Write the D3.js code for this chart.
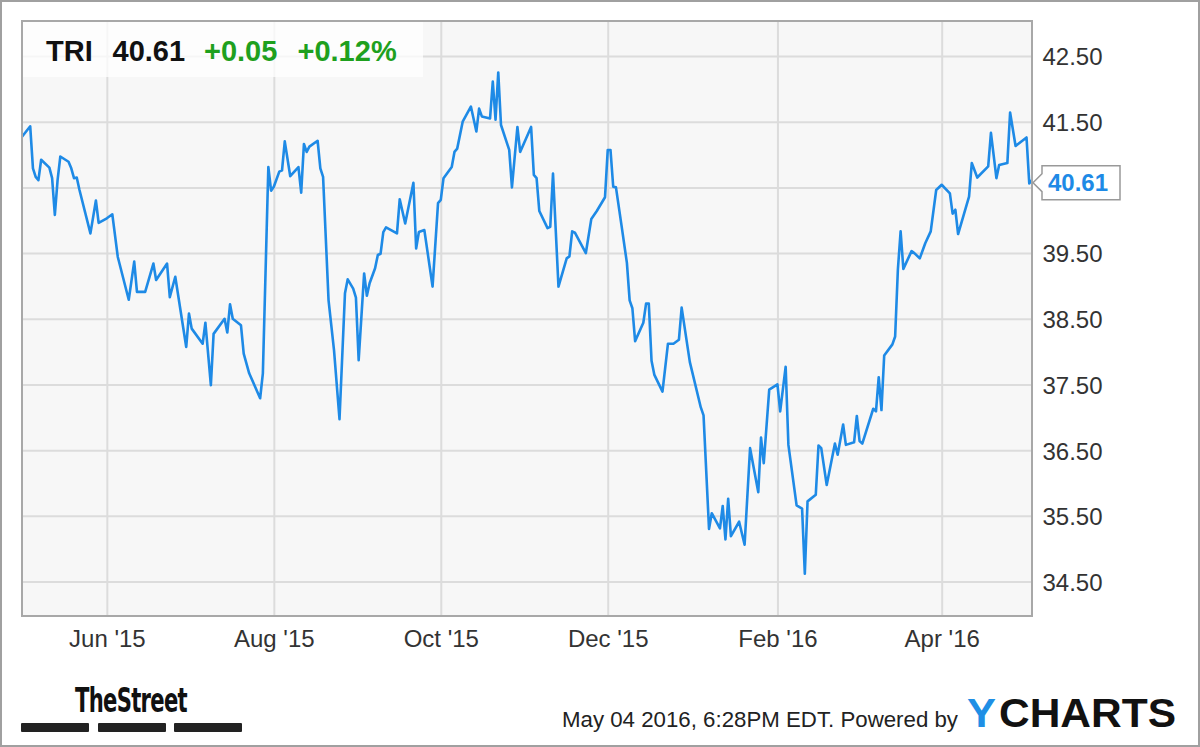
<!DOCTYPE html>
<html>
<head>
<meta charset="utf-8">
<script src="https://cdn.jsdelivr.net/npm/d3@7"></script>
<style>
  html, body { margin: 0; padding: 0; background: #fff; }
  svg { display: block; font-family: "Liberation Sans", Arial, Helvetica, sans-serif; }
</style>
</head>
<body>
<svg id="chart" width="1200" height="747"></svg>
<script>
// ---------- DATA ----------
const ticker = "TRI";
const lastPrice = "40.61";
const change = "+0.05";
const changePct = "+0.12%";
const footerText = "May 04 2016, 6:28PM EDT. Powered by";

const dates = [
  "2015-05-01","2015-05-04","2015-05-05","2015-05-06","2015-05-07","2015-05-08","2015-05-11","2015-05-12","2015-05-13","2015-05-14",
  "2015-05-15","2015-05-18","2015-05-19","2015-05-20","2015-05-21","2015-05-22","2015-05-26","2015-05-28","2015-05-29","2015-06-01",
  "2015-06-03","2015-06-05","2015-06-09","2015-06-11","2015-06-12","2015-06-15","2015-06-18","2015-06-19","2015-06-23","2015-06-24",
  "2015-06-26","2015-06-30","2015-07-01","2015-07-02","2015-07-06","2015-07-07","2015-07-09","2015-07-10","2015-07-14","2015-07-15",
  "2015-07-16","2015-07-17","2015-07-20","2015-07-21","2015-07-23","2015-07-27","2015-07-28","2015-07-30","2015-07-31","2015-08-01",
  "2015-08-03","2015-08-04","2015-08-05","2015-08-07","2015-08-10","2015-08-11","2015-08-12","2015-08-13","2015-08-14","2015-08-17",
  "2015-08-18","2015-08-19","2015-08-21","2015-08-23","2015-08-25","2015-08-27","2015-08-28","2015-08-30","2015-08-31","2015-09-01",
  "2015-09-03","2015-09-04","2015-09-05","2015-09-07","2015-09-08","2015-09-09","2015-09-10","2015-09-11","2015-09-15","2015-09-16",
  "2015-09-18","2015-09-21","2015-09-22","2015-09-23","2015-09-25","2015-09-28","2015-09-30","2015-10-01","2015-10-02","2015-10-05",
  "2015-10-06","2015-10-07","2015-10-09","2015-10-12","2015-10-14","2015-10-15","2015-10-16","2015-10-19","2015-10-20","2015-10-21",
  "2015-10-22","2015-10-23","2015-10-26","2015-10-27","2015-10-29","2015-10-30","2015-11-03","2015-11-04","2015-11-05","2015-11-06",
  "2015-11-09","2015-11-10","2015-11-11","2015-11-13","2015-11-16","2015-11-17","2015-11-18","2015-11-19","2015-11-23","2015-11-25",
  "2015-11-27","2015-11-30","2015-12-01","2015-12-02","2015-12-03","2015-12-04","2015-12-06","2015-12-08","2015-12-09","2015-12-10",
  "2015-12-11","2015-12-14","2015-12-15","2015-12-16","2015-12-17","2015-12-18","2015-12-21","2015-12-23","2015-12-25","2015-12-27",
  "2015-12-28","2015-12-31","2016-01-04","2016-01-05","2016-01-07","2016-01-08","2016-01-11","2016-01-12","2016-01-13","2016-01-14",
  "2016-01-15","2016-01-18","2016-01-20","2016-01-22","2016-01-25","2016-01-26","2016-01-27","2016-01-29","2016-02-01","2016-02-02",
  "2016-02-04","2016-02-05","2016-02-08","2016-02-10","2016-02-11","2016-02-12","2016-02-15","2016-02-16","2016-02-17","2016-02-19",
  "2016-02-22","2016-02-23","2016-02-25","2016-02-26","2016-02-29","2016-03-01","2016-03-02","2016-03-03","2016-03-07","2016-03-08",
  "2016-03-09","2016-03-10","2016-03-11","2016-03-14","2016-03-15","2016-03-16","2016-03-17","2016-03-18","2016-03-21","2016-03-22",
  "2016-03-24","2016-03-26","2016-03-28","2016-03-30","2016-04-01","2016-04-04","2016-04-05","2016-04-06","2016-04-07","2016-04-11",
  "2016-04-12","2016-04-14","2016-04-18","2016-04-19","2016-04-21","2016-04-22","2016-04-25","2016-04-26","2016-04-28","2016-05-02",
  "2016-05-03","2016-05-04"
];

const prices = [
  41.27,41.43,40.79,40.66,40.61,40.92,40.80,40.64,40.08,40.61,
  40.97,40.89,40.79,40.64,40.65,40.46,39.80,40.30,39.96,40.03,
  40.09,39.44,38.79,39.37,38.91,38.91,39.34,39.09,39.34,38.83,
  39.14,38.07,38.58,38.35,38.12,38.44,37.49,38.27,38.50,38.29,
  38.72,38.50,38.40,37.97,37.67,37.29,37.67,40.81,40.45,40.51,
  40.74,40.76,41.20,40.67,40.81,40.42,41.16,41.04,41.12,41.21,
  40.79,40.66,38.78,38.02,36.97,38.89,39.10,38.96,38.82,37.87,
  39.19,38.85,39.04,39.27,39.47,39.49,39.82,39.89,39.80,40.32,
  39.95,40.57,39.57,39.82,39.85,38.99,40.26,40.31,40.64,40.81,
  41.04,41.09,41.50,41.73,41.35,41.70,41.58,41.55,42.11,41.53,
  42.25,41.45,41.07,40.50,41.42,41.04,41.42,40.69,40.64,40.14,
  39.88,39.90,40.71,38.99,39.42,39.45,39.83,39.81,39.50,40.02,
  40.14,40.35,41.07,41.07,40.51,40.50,39.93,39.35,38.78,38.66,
  38.16,38.44,38.73,38.73,37.86,37.65,37.39,38.12,38.12,38.18,
  38.67,37.84,37.15,37.03,35.30,35.54,35.31,35.65,35.14,35.76,
  35.19,35.41,35.06,36.53,35.86,36.69,36.30,37.42,37.50,37.09,
  37.77,36.58,35.66,35.61,34.62,35.72,35.82,36.57,36.53,35.97,
  36.60,36.43,36.89,36.58,36.62,37.02,36.64,36.60,37.13,37.09,
  37.61,37.11,37.94,38.11,38.23,39.25,39.83,39.26,39.53,39.50,
  39.42,39.65,39.83,40.46,40.54,40.41,40.10,40.16,39.79,40.36,
  40.87,40.65,40.82,41.33,40.64,40.84,40.87,41.64,41.13,41.26,
  40.56,40.61
];

const yTickValues = [34.5, 35.5, 36.5, 37.5, 38.5, 39.5, 40.5, 41.5, 42.5];
const yTickHidden = [40.5]; // label hidden behind the last-price marker
const xTickDates = ["2015-06-01","2015-08-01","2015-10-01","2015-12-01","2016-02-01","2016-04-01"];
const xTickLabels = ["Jun '15","Aug '15","Oct '15","Dec '15","Feb '16","Apr '16"];
const xDomain = ["2015-05-01","2016-05-04"];
const yDomain = [33.975, 43.033];

// ---------- LAYOUT ----------
const W = 1200, H = 747;
const plot = { left: 22, right: 1032, top: 21, bottom: 616 };
const blue = "#1e8ae6";
const green = "#1ea01e";

const parse = d3.utcParse("%Y-%m-%d");
const data = dates.map((d, i) => ({ date: parse(d), value: prices[i] }));

const x = d3.scaleUtc().domain(xDomain.map(parse)).range([plot.left, plot.right]);
const y = d3.scaleLinear().domain(yDomain).range([plot.bottom, plot.top]);

const svg = d3.select("#chart");

svg.append("rect").attr("x", 0).attr("y", 0).attr("width", W).attr("height", H).attr("fill", "#fff");

// plot background
svg.append("rect")
  .attr("x", plot.left).attr("y", plot.top)
  .attr("width", plot.right - plot.left).attr("height", plot.bottom - plot.top)
  .attr("fill", "#f7f7f7");

// horizontal gridlines
const yGrid = svg.append("g").attr("transform", `translate(${plot.left},0)`)
  .call(d3.axisLeft(y).tickValues(yTickValues).tickSize(-(plot.right - plot.left)).tickFormat(""));
yGrid.select(".domain").remove();
yGrid.selectAll("line").attr("stroke", "#dcdcdc").attr("stroke-width", 2);

// vertical gridlines
const xGrid = svg.append("g").attr("transform", `translate(0,${plot.bottom})`)
  .call(d3.axisBottom(x).tickValues(xTickDates.map(parse)).tickSize(-(plot.bottom - plot.top)).tickFormat(""));
xGrid.select(".domain").remove();
xGrid.selectAll("line").attr("stroke", "#dcdcdc").attr("stroke-width", 2);

// price line
svg.append("clipPath").attr("id", "clip").append("rect")
  .attr("x", plot.left).attr("y", plot.top)
  .attr("width", plot.right - plot.left).attr("height", plot.bottom - plot.top);

const line = d3.line().x(d => x(d.date)).y(d => y(d.value));
svg.append("path")
  .datum(data)
  .attr("clip-path", "url(#clip)")
  .attr("d", line)
  .attr("fill", "none")
  .attr("stroke", blue)
  .attr("stroke-width", 2.6)
  .attr("stroke-linejoin", "round")
  .attr("stroke-linecap", "round");

// plot border
svg.append("rect")
  .attr("x", plot.left).attr("y", plot.top)
  .attr("width", plot.right - plot.left).attr("height", plot.bottom - plot.top)
  .attr("fill", "none").attr("stroke", "#a8a8a8").attr("stroke-width", 2);

// y axis labels (right)
const yAxis = svg.append("g").attr("transform", `translate(${plot.right},0)`)
  .call(d3.axisRight(y).tickValues(yTickValues.filter(v => !yTickHidden.includes(v)))
    .tickSize(0).tickPadding(10.5).tickFormat(d3.format(".2f")));
yAxis.select(".domain").remove();
yAxis.selectAll("text")
  .attr("dy", "0.37em")
  .attr("fill", "#333")
  .style("font-size", "24px")
  .style("font-family", "'Liberation Sans', Arial, sans-serif");

// x axis labels
const xAxis = svg.append("g").attr("transform", `translate(0,${plot.bottom})`)
  .call(d3.axisBottom(x).tickValues(xTickDates.map(parse)).tickSize(0).tickPadding(14)
    .tickFormat((d, i) => xTickLabels[i]));
xAxis.select(".domain").remove();
xAxis.selectAll("text")
  .attr("fill", "#333")
  .style("font-size", "24px")
  .style("font-family", "'Liberation Sans', Arial, sans-serif");

// header box
svg.append("rect")
  .attr("x", plot.left + 1).attr("y", plot.top + 1)
  .attr("width", 400).attr("height", 55)
  .attr("fill", "#ffffff").attr("fill-opacity", 0.75);

const header = [
  { t: ticker, x: 46, c: "#111" },
  { t: lastPrice, x: 112.5, c: "#111" },
  { t: change, x: 204, c: green },
  { t: changePct, x: 297.5, c: green }
];
svg.selectAll("text.hdr").data(header).join("text")
  .attr("class", "hdr")
  .attr("x", d => d.x).attr("y", 61)
  .attr("fill", d => d.c)
  .style("font-size", "29px").style("font-weight", "bold")
  .text(d => d.t);

// last price marker
const lastVal = prices[prices.length - 1];
const cy = y(lastVal) + 2.5;
const bx0 = 1042, bx1 = 1120, bh = 34;
svg.append("path")
  .attr("d", `M${bx0},${cy - bh / 2} H${bx1} V${cy + bh / 2} H${bx0} V${cy + 9} L${plot.right + 1},${cy} L${bx0},${cy - 9} Z`)
  .attr("fill", "#fff").attr("stroke", "#999").attr("stroke-width", 1.5);
svg.append("text")
  .attr("x", 1048).attr("y", cy + 8.5)
  .attr("fill", blue)
  .style("font-size", "24px").style("font-weight", "bold")
  .text(d3.format(".2f")(lastVal));

// footer: TheStreet logo
svg.append("text")
  .attr("x", 75).attr("y", 712)
  .attr("fill", "#111")
  .attr("textLength", 112).attr("lengthAdjust", "spacingAndGlyphs")
  .style("font-family", "'Liberation Sans Narrow', 'DejaVu Sans Condensed', 'Liberation Sans', sans-serif")
  .style("font-size", "34px").style("font-weight", "bold")
  .style("letter-spacing", "-1px")
  .text("TheStreet");
const bars = [21, 98, 174];
svg.selectAll("rect.logobar").data(bars).join("rect")
  .attr("class", "logobar")
  .attr("x", d => d).attr("y", 723)
  .attr("width", 68).attr("height", 9)
  .attr("rx", 1)
  .attr("fill", "#222");

// footer: timestamp & YCHARTS
svg.append("text")
  .attr("x", 562).attr("y", 727)
  .attr("fill", "#222")
  .attr("textLength", 396).attr("lengthAdjust", "spacingAndGlyphs")
  .style("font-size", "22px")
  .text(footerText);
svg.append("text")
  .attr("x", 967).attr("y", 727)
  .attr("fill", "#1f8fe5")
  .attr("textLength", 29).attr("lengthAdjust", "spacingAndGlyphs")
  .style("font-size", "41px").style("font-weight", "bold")
  .text("Y");
svg.append("text")
  .attr("x", 999).attr("y", 727)
  .attr("fill", "#111")
  .attr("textLength", 177).attr("lengthAdjust", "spacingAndGlyphs")
  .style("font-size", "41px").style("font-weight", "bold")
  .text("CHARTS");

// outer border
svg.append("rect")
  .attr("x", 1).attr("y", 1).attr("width", W - 2).attr("height", H - 2)
  .attr("fill", "none").attr("stroke", "#a0a0a0").attr("stroke-width", 2);
</script>
</body>
</html>
